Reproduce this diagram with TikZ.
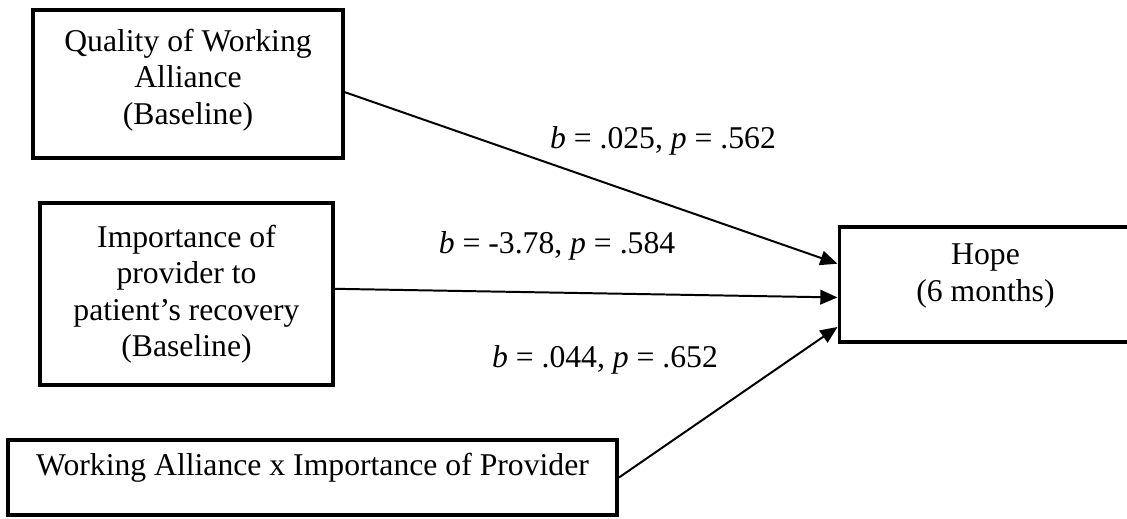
\documentclass[tikz,border=0pt]{standalone}
\usepackage{fontspec}
\setmainfont{Liberation Serif}
\usetikzlibrary{arrows.meta,positioning}
\tikzset{every picture/.style={line width=0.75pt}}

\begin{document}
\begin{tikzpicture}[x=0.3787pt, y=-0.3787pt,
    font=\fontsize{12}{13.8}\selectfont,
    var/.style={draw, line width=1.5pt, align=center, inner sep=0pt},
    effect/.style={-{Triangle[length=6.5pt,width=5.5pt]}, line width=0.75pt}]
    \useasboundingbox (0,0) rectangle (1127,518);
    % Prädiktoren
    \node[var, minimum width=117.4pt, minimum height=56pt, text depth=5.5pt] (qwa) at (188,84) {Quality of Working\\Alliance\\(Baseline)};
    \node[var, minimum width=111pt, minimum height=68.9pt] (imp) at (186.5,294) {Importance of\\provider to\\patient’s recovery\\(Baseline)};
    \node[var, minimum width=230.6pt, minimum height=28.4pt, text depth=10pt] (inter) at (312.5,477.5) {Working Alliance x Importance of Provider};
    % Ergebnis
    \node[var, minimum width=110.6pt, minimum height=43.6pt, text depth=9pt] (hope) at (985.5,284.5) {Hope\\(6 months)};
    % Pfade
    \draw[effect] (qwa.-3.3) -- (hope.172.4);
    \draw[effect] (imp.2.3) -- (hope.-175.1);
    \draw[effect] (inter.east) -- (hope.-164.4);
    % Koeffizienten
    \node[anchor=base] (b1) at (663,148) {\textit{b} = .025, \textit{p} = .562};
    \node[anchor=base] (b2) at (557,253) {\textit{b} = -3.78, \textit{p} = .584};
    \node[anchor=base] (b3) at (605,367) {\textit{b} = .044, \textit{p} = .652};
\end{tikzpicture}
\end{document}
